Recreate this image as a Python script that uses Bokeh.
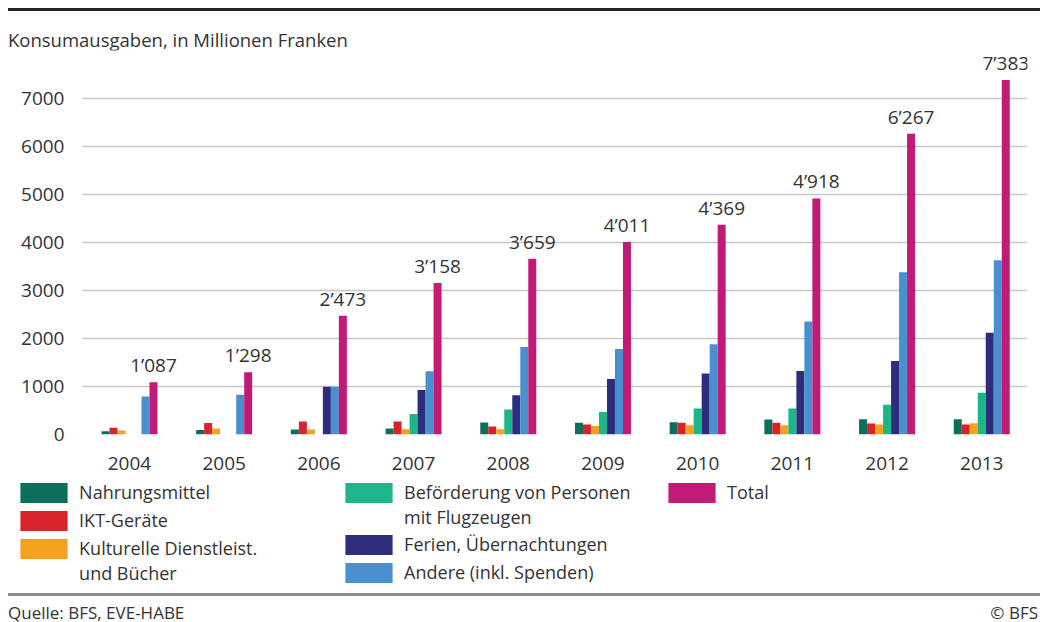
from bokeh.plotting import figure
from bokeh.models import (ColumnDataSource, Legend, LegendItem, FixedTicker, Range1d, Div)
from bokeh.layouts import column
from bokeh.transform import dodge
from bokeh.core.properties import value
from bokeh.embed import file_html
from bokeh.resources import INLINE

# ---- data (Mio. Franken) ----
years = ["2004", "2005", "2006", "2007", "2008", "2009", "2010", "2011", "2012", "2013"]
nahrungsmittel = [70, 95, 105, 125, 250, 245, 255, 310, 320, 320]
ikt_geraete = [140, 240, 270, 270, 165, 210, 245, 245, 230, 210]
kulturelle = [85, 125, 105, 110, 110, 175, 195, 195, 210, 235]
befoerderung = [0, 0, 0, 425, 520, 470, 540, 540, 620, 870]
ferien = [0, 0, 995, 925, 820, 1155, 1270, 1325, 1530, 2120]
andere = [790, 830, 995, 1320, 1825, 1780, 1880, 2355, 3380, 3630]
total = [1087, 1298, 2473, 3158, 3659, 4011, 4369, 4918, 6267, 7383]
y_ticks = [0, 1000, 2000, 3000, 4000, 5000, 6000, 7000]

series = [
    ("nahrungsmittel", nahrungsmittel, ["Nahrungsmittel"], "#0b6f5c"),
    ("ikt", ikt_geraete, ["IKT-Geräte"], "#d9232b"),
    ("kultur", kulturelle, ["Kulturelle Dienstleist.", "und Bücher"], "#f6a01f"),
    ("befoerderung", befoerderung, ["Beförderung von Personen", "mit Flugzeugen"], "#1db58a"),
    ("ferien", ferien, ["Ferien, Übernachtungen"], "#2d2e7b"),
    ("andere", andere, ["Andere (inkl. Spenden)"], "#4a8fd0"),
    ("total", total, ["Total"], "#c21b77"),
]

FONT = "Open Sans"
TXT = "#333333"

data = {"x": list(range(len(years)))}
for key, vals, _, _ in series:
    data[key] = vals
data["total_label"] = [f"{v // 1000}\u2019{v % 1000:03d}" for v in total]
src = ColumnDataSource(data)

# ---- header ----
top_div = Div(width=1040, height=50, margin=0, text=(
    "<div style=\"position:relative;width:1040px;height:50px;font-family:'Open Sans';\">"
    "<div style='position:absolute;left:8px;top:8px;width:1032px;height:3px;background:#222;'></div>"
    "<div style='position:absolute;left:8px;top:29px;font-size:18.5px;line-height:22px;color:#333;white-space:nowrap;'>"
    "Konsumausgaben, in Millionen Franken</div></div>"))

# ---- main chart ----
p = figure(width=1040, height=430, output_backend="svg", toolbar_location=None,
           x_range=Range1d(-0.496, 9.483), y_range=Range1d(0, 8000),
           min_border_left=82, min_border_right=13, min_border_top=0,
           min_border_bottom=46, margin=0)
p.outline_line_color = None
p.background_fill_color = "white"
p.border_fill_color = "white"

bw = 0.0845
for i, (key, vals, label, color) in enumerate(series):
    p.vbar(x=dodge("x", (i - 3) * bw, range=p.x_range), top=key, width=bw,
           bottom=0, source=src, fill_color=color, line_color=None)

p.text(x=dodge("x", 3 * bw, range=p.x_range), y="total", text="total_label", source=src,
       text_align="center", text_baseline="bottom", y_offset=-4,
       text_font_size="19px", text_font=value(FONT), text_color=TXT)

p.xaxis.ticker = FixedTicker(ticks=list(range(len(years))))
p.xaxis.major_label_overrides = {i: y for i, y in enumerate(years)}
p.xaxis.axis_line_color = None
p.xaxis.major_tick_line_color = None
p.xaxis.minor_tick_line_color = None
p.xaxis.major_label_standoff = 16
p.xaxis.major_label_text_font = FONT
p.xaxis.major_label_text_font_size = "19px"
p.xaxis.major_label_text_color = TXT

p.yaxis.ticker = FixedTicker(ticks=y_ticks)
p.yaxis.axis_line_color = None
p.yaxis.major_tick_line_color = None
p.yaxis.minor_tick_line_color = None
p.yaxis.major_label_standoff = 12
p.yaxis.major_label_text_font = FONT
p.yaxis.major_label_text_font_size = "19px"
p.yaxis.major_label_text_color = TXT

p.xgrid.grid_line_color = None
p.ygrid.grid_line_color = "#c8c8c8"
p.ygrid.grid_line_width = 1.5

# ---- legend panel (its renderers are hidden; only the legend shows) ----
LP_H = 110
lp = figure(width=1040, height=LP_H, output_backend="svg", toolbar_location=None,
            x_range=Range1d(30, 31), y_range=Range1d(-20000, -10000),
            min_border=0, margin=0)
lp.frame_align = False
lp.axis.visible = False
lp.grid.visible = False
lp.outline_line_color = None
leg_renderers = []
for key, vals, label, color in series:
    leg_renderers.append(lp.vbar(x="x", top=key, width=bw, source=src,
                                 fill_color=color, line_color=None, visible=False))
blank = lp.vbar(x="x", top="total", width=bw, source=src, fill_alpha=0, line_alpha=0,
                visible=False)

# legend layout: (series index, glyph left x, first line centre y) in the 1040x622 page
legend_slots = [(0, 20, 492), (1, 20, 520), (2, 20, 548),
                (3, 345, 492), (4, 345, 544), (5, 345, 572),
                (6, 668, 492)]
LINE_STEP = [0, 25]
PAGE_TOP = 480  # page y of the legend panel's top edge

for k, gx, cy in legend_slots:
    for j, line in enumerate(series[k][2]):
        rend = leg_renderers[k] if j == 0 else blank
        yc = cy + LINE_STEP[j]
        lg = Legend(items=[LegendItem(label=line, renderers=[rend])],
                    location=(gx - 5.9, LP_H - (yc - PAGE_TOP) - 12.5),
                    orientation="vertical", glyph_width=59, glyph_height=25,
                    label_height=25, label_standoff=6, spacing=0, padding=0, margin=0,
                    border_line_color=None, background_fill_alpha=0,
                    label_text_font=FONT, label_text_font_size="18px",
                    label_text_color=TXT)
        lp.add_layout(lg)

# ---- footer ----
bottom_div = Div(width=1040, height=32, margin=0, text=(
    "<div style=\"position:relative;width:1040px;height:32px;font-family:'Open Sans';\">"
    "<div style='position:absolute;left:8px;top:3px;width:1032px;height:3px;background:#8c8c8c;'></div>"
    "<div style='position:absolute;left:8px;top:13px;font-size:17px;line-height:20px;color:#333;white-space:nowrap;'>"
    "Quelle: BFS, EVE-HABE</div>"
    "<div style='position:absolute;right:2px;top:13px;font-size:17px;line-height:20px;color:#333;white-space:nowrap;'>"
    "© BFS</div></div>"))

layout = column(top_div, p, lp, bottom_div, spacing=0, margin=0)
open("out.html", "w").write(file_html(layout, INLINE))
